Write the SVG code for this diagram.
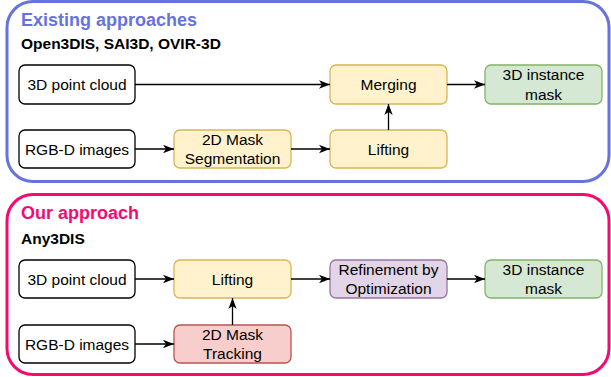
<svg xmlns="http://www.w3.org/2000/svg" width="611" height="377" viewBox="0 0 611 377">
  <style>
    .panel { fill: #ffffff; stroke-width: 3; }
    .title { font-family: "Liberation Sans", Arial, sans-serif; font-weight: bold; font-size: 18px; }
    .sub { font-family: "Liberation Sans", Arial, sans-serif; font-weight: bold; font-size: 15.5px; fill: #000; }
    .box { stroke-width: 1.3; }
    .plain { fill: #ffffff; stroke: #000000; }
    .yellow { fill: #fff2cc; stroke: #d6b656; }
    .green { fill: #d5e8d4; stroke: #82b366; }
    .red { fill: #f8cecc; stroke: #b85450; }
    .purple { fill: #e1d5e7; stroke: #9673a6; }
    .lbl { font-family: "Liberation Sans", Arial, sans-serif; font-size: 15.5px; fill: #000; text-anchor: middle; }
    .edge { fill: none; stroke: #000; stroke-width: 1.3; marker-end: url(#arrow); }
  </style>
  <defs>
    <marker id="arrow" markerUnits="userSpaceOnUse" markerWidth="12" markerHeight="10" refX="11" refY="5" orient="auto">
      <path d="M0,0.8 L11,5 L0,9.2 L3,5 Z" fill="#000"/>
    </marker>
  </defs>

  <!-- Panel: existing approaches -->
  <g id="panel-existing">
    <rect class="panel" x="7" y="1.5" width="602" height="180" rx="26" stroke="#6673dd"/>
    <text class="title" x="21" y="26" fill="#6673dd">Existing approaches</text>
    <text class="sub" x="21" y="49">Open3DIS, SAI3D, OVIR-3D</text>
  </g>

  <!-- Panel: our approach -->
  <g id="panel-ours">
    <rect class="panel" x="7" y="194.5" width="602" height="180" rx="26" stroke="#f50a72"/>
    <text class="title" x="21" y="219" fill="#f50a72">Our approach</text>
    <text class="sub" x="21" y="244">Any3DIS</text>
  </g>

  <!-- Existing pipeline nodes -->
  <g id="ex-pointcloud">
    <rect class="box plain" x="19" y="65" width="116" height="39" rx="6"/>
    <text class="lbl" x="77" y="89.5">3D point cloud</text>
  </g>
  <g id="ex-rgbd">
    <rect class="box plain" x="19" y="130" width="116" height="38" rx="6"/>
    <text class="lbl" x="77" y="154.5">RGB-D images</text>
  </g>
  <g id="ex-segmentation">
    <rect class="box yellow" x="174" y="130" width="117" height="38" rx="6"/>
    <text class="lbl" x="232.5" y="145">2D Mask</text>
    <text class="lbl" x="232.5" y="164">Segmentation</text>
  </g>
  <g id="ex-merging">
    <rect class="box yellow" x="330" y="65" width="117" height="39" rx="6"/>
    <text class="lbl" x="388.5" y="89.5">Merging</text>
  </g>
  <g id="ex-lifting">
    <rect class="box yellow" x="330" y="130" width="117" height="38" rx="6"/>
    <text class="lbl" x="388.5" y="154.5">Lifting</text>
  </g>
  <g id="ex-instance">
    <rect class="box green" x="485" y="65" width="117" height="39" rx="6"/>
    <text class="lbl" x="543.5" y="80">3D instance</text>
    <text class="lbl" x="543.5" y="100">mask</text>
  </g>

  <!-- Our pipeline nodes -->
  <g id="our-pointcloud">
    <rect class="box plain" x="19" y="260" width="116" height="38" rx="6"/>
    <text class="lbl" x="77" y="284.5">3D point cloud</text>
  </g>
  <g id="our-rgbd">
    <rect class="box plain" x="19" y="325" width="116" height="38" rx="6"/>
    <text class="lbl" x="77" y="349.5">RGB-D images</text>
  </g>
  <g id="our-lifting">
    <rect class="box yellow" x="174" y="260" width="117" height="38" rx="6"/>
    <text class="lbl" x="232.5" y="284.5">Lifting</text>
  </g>
  <g id="our-tracking">
    <rect class="box red" x="174" y="325" width="117" height="38" rx="6"/>
    <text class="lbl" x="232.5" y="340">2D Mask</text>
    <text class="lbl" x="232.5" y="359">Tracking</text>
  </g>
  <g id="our-refinement">
    <rect class="box purple" x="330" y="260" width="117" height="38" rx="6"/>
    <text class="lbl" x="388.5" y="275">Refinement by</text>
    <text class="lbl" x="388.5" y="294">Optimization</text>
  </g>
  <g id="our-instance">
    <rect class="box green" x="485" y="260" width="117" height="38" rx="6"/>
    <text class="lbl" x="543.5" y="275">3D instance</text>
    <text class="lbl" x="543.5" y="294">mask</text>
  </g>

  <!-- Connectors -->
  <g id="connectors">
    <path class="edge" d="M135,84.5 H330"/>
    <path class="edge" d="M135,149 H174"/>
    <path class="edge" d="M291,149 H330"/>
    <path class="edge" d="M388.5,130 V104"/>
    <path class="edge" d="M447,84.5 H485"/>

    <path class="edge" d="M135,279 H174"/>
    <path class="edge" d="M135,344 H174"/>
    <path class="edge" d="M232.5,325 V298"/>
    <path class="edge" d="M291,279 H330"/>
    <path class="edge" d="M447,279 H485"/>
  </g>
</svg>
